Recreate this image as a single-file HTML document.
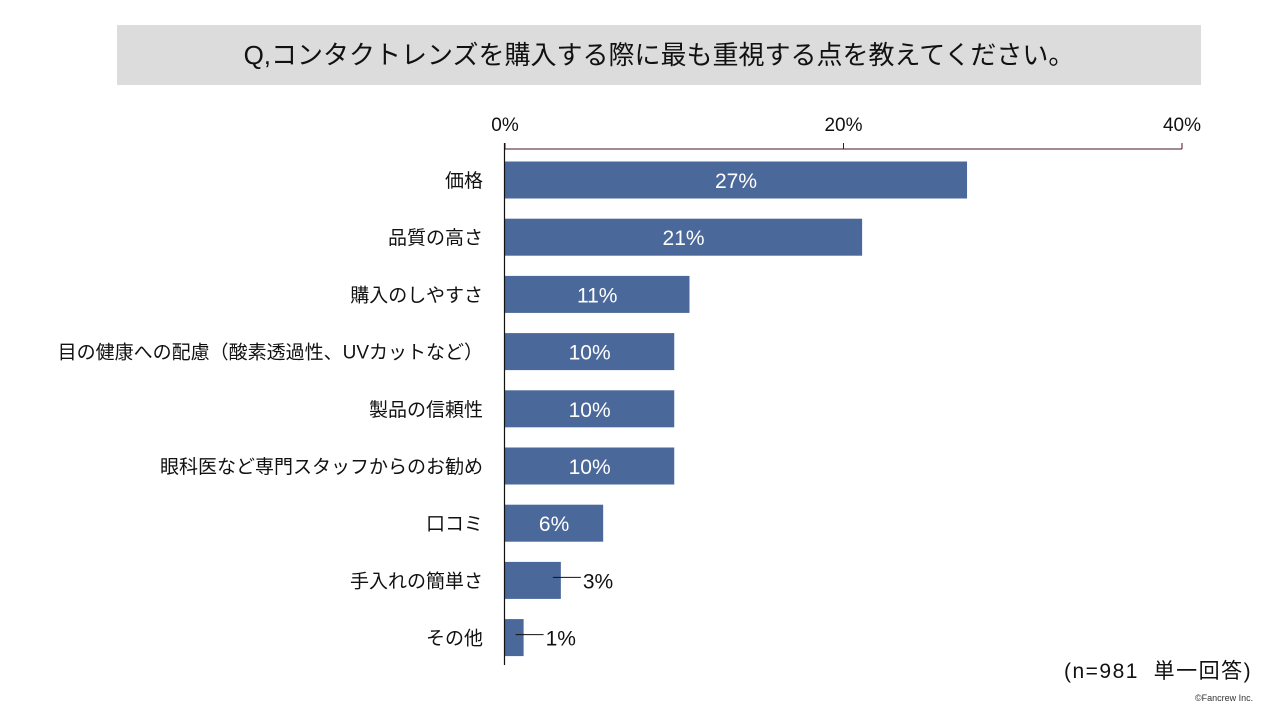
<!DOCTYPE html>
<html><head><meta charset="utf-8"><style>
body{margin:0;width:1280px;height:720px;background:#fff;overflow:hidden;font-family:"Liberation Sans","Noto Sans CJK JP",sans-serif}
#title{position:absolute;left:117px;top:25px;width:1084px;height:60px;background:#dcdcdc;font-size:26px;line-height:60px;text-align:center;color:#111}
</style></head><body>
<div id="title">Q,コンタクトレンズを購入する際に最も重視する点を教えてください。</div>
<svg id="chart" width="1280" height="720" style="position:absolute;left:0;top:0"></svg>
<div style="position:absolute;left:1064px;top:655px;font-size:21px;letter-spacing:1.5px;color:#111">(n=981&nbsp; 単一回答)</div>
<div style="position:absolute;left:1195px;top:693px;font-size:9px;color:#333">©Fancrew Inc.</div>
<script>
const categories=["価格","品質の高さ","購入のしやすさ","目の健康への配慮（酸素透過性、UVカットなど）","製品の信頼性","眼科医など専門スタッフからのお勧め","口コミ","手入れの簡単さ","その他"];
const values=[27.3,21.1,10.9,10.0,10.0,10.0,5.8,3.3,1.1];
const valueLabels=["27%","21%","11%","10%","10%","10%","6%","3%","1%"];
const ticks=[0,20,40];
const tickLabels=["0%","20%","40%"];
const NS="http://www.w3.org/2000/svg",svg=document.getElementById('chart');
const x=v=>505+v*(1182-505)/40;
const yc=i=>180+i*57.2;
function mk(t,a,txt){const e=document.createElementNS(NS,t);for(const k in a)e.setAttribute(k,a[k]);if(txt!=null)e.textContent=txt;svg.appendChild(e);return e;}
let ax=mk('line',{x1:x(0),x2:x(40),y1:149,y2:149,stroke:'#4a1028','stroke-width':1});


ticks.forEach((t,i)=>{
 let l=mk('line',{x1:x(t),x2:x(t),y1:143,y2:149,stroke:'#4a1028'});
 
 
 let tx=mk('text',{x:x(t),y:131,'font-size':19,'text-anchor':'middle',fill:'#111'},tickLabels[i]);
 
 
});
categories.forEach((c,i)=>{
 const y=yc(i);
 let r=mk('rect',{x:x(0),y:y-18.5,width:x(values[i])-x(0),height:37,fill:'#4a6899'});
 
 
 let cl=mk('text',{x:483,y:y+7,'font-size':19,'text-anchor':'end',fill:'#111'},c);
 
 
 let vl;
 if(values[i]>=5){
  vl=mk('text',{x:(x(0)+x(values[i]))/2,y:y+8,'font-size':21,'text-anchor':'middle',fill:'#fff'},valueLabels[i]);
 }else{
  const xe=x(values[i]);
  let ld=mk('line',{x1:xe-8,x2:xe+20,y1:y-3,y2:y-3,stroke:'#111'});
  
  
  vl=mk('text',{x:xe+22,y:y+8,'font-size':21,fill:'#111'},valueLabels[i]);
 }
 
 
});
let ya=mk('line',{x1:504.5,x2:504.5,y1:143,y2:665,stroke:'#111','stroke-width':1.2});


</script>
</body></html>
